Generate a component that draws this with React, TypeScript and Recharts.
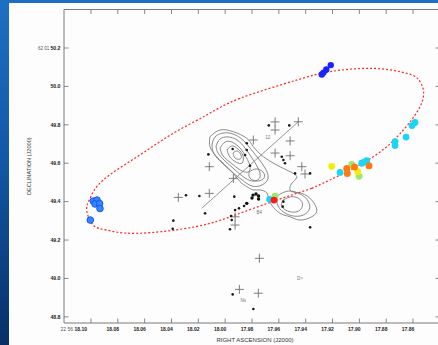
import React from 'react';
import { ComposedChart, XAxis, YAxis, Line, Scatter, ReferenceArea, ReferenceDot } from 'recharts';

type P = { x: number; y: number };

// Right ascension (seconds of 22h56m) and declination (arcsec of 62°01')
const raTicks = [18.1, 18.08, 18.06, 18.04, 18.02, 18.0, 17.98, 17.96, 17.94, 17.92, 17.9, 17.88, 17.86];
const decTicks = [48.8, 49.0, 49.2, 49.4, 49.6, 49.8, 50.0, 50.2];
const raDomain = [17.8399, 18.1201];
const decDomain = [48.768, 50.4005];

const ellipsePath: P[] = [
  { x: 17.9355, y: 49.469 }, { x: 17.9628, y: 49.405 }, { x: 17.9927, y: 49.33 }, { x: 18.0225, y: 49.269 },
  { x: 18.0659, y: 49.235 }, { x: 18.0883, y: 49.252 }, { x: 18.0983, y: 49.278 }, { x: 18.1032, y: 49.356 },
  { x: 18.1007, y: 49.417 }, { x: 18.0908, y: 49.513 }, { x: 18.0635, y: 49.643 }, { x: 18.0387, y: 49.756 },
  { x: 18.0138, y: 49.851 }, { x: 17.9889, y: 49.938 }, { x: 17.9467, y: 50.033 }, { x: 17.9219, y: 50.077 },
  { x: 17.8896, y: 50.094 }, { x: 17.8647, y: 50.068 }, { x: 17.8563, y: 50.039 }, { x: 17.8523, y: 49.981 },
  { x: 17.8548, y: 49.894 }, { x: 17.8672, y: 49.773 }, { x: 17.8896, y: 49.634 }, { x: 17.9219, y: 49.513 },
  { x: 17.9355, y: 49.469 },
];

const contourOuter: P[] = [
  { x: 18.0113, y: 49.738 }, { x: 18.0038, y: 49.773 }, { x: 17.9939, y: 49.764 }, { x: 17.9839, y: 49.73 },
  { x: 17.979, y: 49.686 }, { x: 17.9715, y: 49.634 }, { x: 17.9616, y: 49.591 }, { x: 17.9516, y: 49.556 },
  { x: 17.9466, y: 49.53 }, { x: 17.9492, y: 49.504 }, { x: 17.9516, y: 49.478 }, { x: 17.9504, y: 49.452 },
  { x: 17.9429, y: 49.443 }, { x: 17.9355, y: 49.408 }, { x: 17.9317, y: 49.356 }, { x: 17.9355, y: 49.321 },
  { x: 17.9442, y: 49.304 }, { x: 17.9516, y: 49.321 }, { x: 17.9591, y: 49.339 }, { x: 17.9653, y: 49.382 },
  { x: 17.9678, y: 49.417 }, { x: 17.969, y: 49.446 }, { x: 17.974, y: 49.461 }, { x: 17.979, y: 49.461 },
  { x: 17.9839, y: 49.478 }, { x: 17.9889, y: 49.504 }, { x: 17.9939, y: 49.547 }, { x: 17.9988, y: 49.582 },
  { x: 18.0063, y: 49.634 }, { x: 18.0113, y: 49.686 }, { x: 18.0113, y: 49.738 },
];
const contour2: P[] = [
  { x: 18.0098, y: 49.695 }, { x: 18.0075, y: 49.737 }, { x: 18.0016, y: 49.757 }, { x: 17.9941, y: 49.752 },
  { x: 17.9867, y: 49.721 }, { x: 17.9815, y: 49.679 }, { x: 17.9755, y: 49.627 }, { x: 17.9703, y: 49.575 },
  { x: 17.968, y: 49.523 }, { x: 17.9725, y: 49.487 }, { x: 17.98, y: 49.481 }, { x: 17.9874, y: 49.513 },
  { x: 17.9949, y: 49.554 }, { x: 18.0023, y: 49.601 }, { x: 18.0083, y: 49.648 }, { x: 18.0098, y: 49.695 },
];
const contour3: P[] = [
  { x: 18.0068, y: 49.69 }, { x: 18.0038, y: 49.726 }, { x: 17.9979, y: 49.737 }, { x: 17.9911, y: 49.721 },
  { x: 17.9852, y: 49.679 }, { x: 17.98, y: 49.627 }, { x: 17.9755, y: 49.575 }, { x: 17.974, y: 49.528 },
  { x: 17.9785, y: 49.507 }, { x: 17.9852, y: 49.523 }, { x: 17.9926, y: 49.565 }, { x: 18.0001, y: 49.612 },
  { x: 18.0053, y: 49.653 }, { x: 18.0068, y: 49.69 },
];
const contour4: P[] = [
  { x: 18.0038, y: 49.679 }, { x: 18.0001, y: 49.71 }, { x: 17.9949, y: 49.71 }, { x: 17.9889, y: 49.679 },
  { x: 17.9844, y: 49.632 }, { x: 17.9815, y: 49.585 }, { x: 17.9829, y: 49.554 }, { x: 17.9889, y: 49.565 },
  { x: 17.9956, y: 49.601 }, { x: 18.0016, y: 49.638 }, { x: 18.0038, y: 49.679 },
];
const contour5: P[] = [
  { x: 17.9986, y: 49.669 }, { x: 17.9949, y: 49.69 }, { x: 17.9904, y: 49.674 }, { x: 17.9867, y: 49.638 },
  { x: 17.9874, y: 49.601 }, { x: 17.9919, y: 49.606 }, { x: 17.9964, y: 49.632 }, { x: 17.9986, y: 49.669 },
];
const contour6: P[] = [
  { x: 17.9941, y: 49.653 }, { x: 17.9911, y: 49.664 }, { x: 17.9882, y: 49.643 }, { x: 17.9889, y: 49.622 },
  { x: 17.9926, y: 49.627 }, { x: 17.9941, y: 49.653 },
];
const contourB: P[] = [
  { x: 17.9822, y: 49.554 }, { x: 17.977, y: 49.57 }, { x: 17.9718, y: 49.554 }, { x: 17.971, y: 49.523 },
  { x: 17.9762, y: 49.507 }, { x: 17.9815, y: 49.523 }, { x: 17.9822, y: 49.554 },
];
const contourLobe: P[] = [
  { x: 17.9613, y: 49.429 }, { x: 17.9531, y: 49.455 }, { x: 17.9442, y: 49.44 }, { x: 17.9382, y: 49.403 },
  { x: 17.9375, y: 49.356 }, { x: 17.9442, y: 49.325 }, { x: 17.9539, y: 49.335 }, { x: 17.9606, y: 49.377 },
  { x: 17.9613, y: 49.429 },
];
const contourLobeInner: P[] = [
  { x: 17.9569, y: 49.408 }, { x: 17.9494, y: 49.426 }, { x: 17.9429, y: 49.4 }, { x: 17.9442, y: 49.356 },
  { x: 17.9516, y: 49.347 }, { x: 17.9578, y: 49.374 }, { x: 17.9569, y: 49.408 },
];
const contours = [contourOuter, contour2, contour3, contour4, contour5, contour6, contourB, contourLobe, contourLobeInner];

const jetAxis: P[] = [{ x: 18.0175, y: 49.365 }, { x: 17.9455, y: 49.816 }];

const crosses: P[] = [
  { x: 17.9628, y: 49.815 }, { x: 17.9628, y: 49.773 }, { x: 17.9455, y: 49.816 }, { x: 17.979, y: 49.721 },
  { x: 17.9516, y: 49.716 }, { x: 17.9628, y: 49.653 }, { x: 17.9516, y: 49.639 }, { x: 18.0118, y: 49.582 },
  { x: 17.9429, y: 49.582 }, { x: 17.9405, y: 49.544 }, { x: 17.9939, y: 49.521 }, { x: 18.0118, y: 49.443 },
  { x: 18.0349, y: 49.422 }, { x: 17.9926, y: 49.321 }, { x: 17.9926, y: 49.278 }, { x: 17.9745, y: 49.105 },
  { x: 17.9894, y: 48.943 }, { x: 17.9753, y: 48.923 },
];

const blackDots: P[] = [
  { x: 17.9675, y: 49.797 }, { x: 17.9522, y: 49.797 }, { x: 18.0125, y: 49.646 }, { x: 17.9944, y: 49.674 },
  { x: 17.9839, y: 49.704 }, { x: 17.9839, y: 49.669 }, { x: 17.9852, y: 49.643 }, { x: 17.9815, y: 49.587 },
  { x: 17.9578, y: 49.634 }, { x: 17.9566, y: 49.617 }, { x: 17.9554, y: 49.6 }, { x: 17.9479, y: 49.547 },
  { x: 17.9367, y: 49.547 }, { x: 18.0292, y: 49.433 }, { x: 18.0192, y: 49.429 }, { x: 17.9932, y: 49.426 },
  { x: 18.015, y: 49.339 }, { x: 18.0386, y: 49.301 }, { x: 18.0391, y: 49.259 }, { x: 17.9964, y: 49.256 },
  { x: 17.9951, y: 49.304 }, { x: 17.9839, y: 49.391 }, { x: 17.9859, y: 49.377 }, { x: 17.9897, y: 49.365 },
  { x: 17.9926, y: 49.356 }, { x: 17.9956, y: 49.325 }, { x: 17.9566, y: 49.4 }, { x: 17.9571, y: 49.374 },
  { x: 17.9367, y: 49.266 }, { x: 17.9944, y: 48.917 }, { x: 17.979, y: 48.841 },
];
const blackArc: P[] = [
  { x: 17.98, y: 49.419 }, { x: 17.9792, y: 49.434 }, { x: 17.977, y: 49.44 }, { x: 17.9751, y: 49.429 },
  { x: 17.9751, y: 49.414 }, { x: 17.9839, y: 49.391 },
];

const deepBlueSpots: P[] = [
  { x: 17.9213, y: 50.111 }, { x: 17.9246, y: 50.088 }, { x: 17.9267, y: 50.072 }, { x: 17.928, y: 50.062 },
];
const blueSpots: P[] = [
  { x: 18.0983, y: 49.403 }, { x: 18.0955, y: 49.408 }, { x: 18.097, y: 49.388 }, { x: 18.0936, y: 49.39 },
  { x: 18.0933, y: 49.364 }, { x: 18.1005, y: 49.304 },
];
const cyanSpots: P[] = [
  { x: 17.8585, y: 49.812 }, { x: 17.8607, y: 49.796 }, { x: 17.8652, y: 49.736 }, { x: 17.8734, y: 49.713 },
  { x: 17.8734, y: 49.692 }, { x: 17.9144, y: 49.552 }, { x: 17.8982, y: 49.6 }, { x: 17.8965, y: 49.606 },
  { x: 17.8945, y: 49.613 }, { x: 17.9669, y: 49.412 },
];
const greenSpots: P[] = [{ x: 17.9057, y: 49.594 }, { x: 17.9002, y: 49.532 }, { x: 17.9628, y: 49.429 }];
const yellowSpots: P[] = [{ x: 17.9206, y: 49.584 }, { x: 17.9012, y: 49.556 }];
const orangeSpots: P[] = [
  { x: 17.9094, y: 49.572 }, { x: 17.909, y: 49.547 }, { x: 17.9036, y: 49.58 }, { x: 17.8928, y: 49.587 },
];
const redSpots: P[] = [{ x: 17.9636, y: 49.408 }];

const annotations = [
  { x: 17.9683, y: 49.735, text: '12' },
  { x: 17.9745, y: 49.344, text: 'B4' },
  { x: 17.9865, y: 48.884, text: 'Ns' },
  { x: 17.9442, y: 49.001, text: 'D>' },
];

const W = 446;
const H = 345;
const MARGIN = { top: 9.5, right: 6, bottom: 0, left: 0 };
const PLOT_TOP = MARGIN.top;
const PLOT_RIGHT = W - MARGIN.right;
const TICK = 4.5;
const FRAME = '#7a7a7a';

const XTick = (props: any) => {
  const { x, y, payload } = props;
  const v: number = payload.value;
  const first = Math.abs(v - 18.1) < 1e-6;
  return (
    <g>
      <line x1={x} x2={x} y1={y} y2={y - TICK} stroke={FRAME} strokeWidth={0.9} />
      <line x1={x} x2={x} y1={PLOT_TOP} y2={PLOT_TOP + TICK} stroke={FRAME} strokeWidth={0.9} />
      {first ? (
        <text x={x - 4} y={y + 8} textAnchor="end" fontSize={5} fontWeight="bold" fill="#222">
          <tspan fontWeight="normal" fill="#555">22 56 </tspan>18.10
        </text>
      ) : (
        <text x={x - 5} y={y + 8} textAnchor="middle" fontSize={5} fontWeight="bold" fill="#222">
          {v.toFixed(2)}
        </text>
      )}
    </g>
  );
};

const YTick = (props: any) => {
  const { x, y, payload } = props;
  const v: number = payload.value;
  const first = Math.abs(v - 50.2) < 1e-6;
  return (
    <g>
      <line x1={x} x2={x + TICK} y1={y} y2={y} stroke={FRAME} strokeWidth={0.9} />
      <line x1={PLOT_RIGHT} x2={PLOT_RIGHT - TICK} y1={y} y2={y} stroke={FRAME} strokeWidth={0.9} />
      <text x={x - 3.5} y={y + 1.8} textAnchor="end" fontSize={5.2} fontWeight="bold" fill="#222">
        {first ? <tspan fontWeight="normal" fill="#555" fontSize={4.5}>62 01 </tspan> : null}
        {v.toFixed(1)}
      </text>
    </g>
  );
};

const YTitle = (props: any) => {
  const vb = props.viewBox || { x: 0, y: 0, width: 64, height: 300 };
  const cx = 31;
  const cy = vb.y + vb.height / 2;
  return (
    <text x={cx} y={cy} transform={`rotate(-90 ${cx} ${cy})`} textAnchor="middle" fontSize={5.6} fill="#333">
      DECLINATION (J2000)
    </text>
  );
};

const XTitle = (props: any) => {
  const vb = props.viewBox || { x: 64, y: 323, width: 376, height: 22 };
  const cx = vb.x + vb.width / 2 + 3;
  return (
    <text x={cx} y={342} textAnchor="middle" fontSize={6} fill="#333">
      RIGHT ASCENSION (J2000)
    </text>
  );
};

const circleShape = (fill: string, r: number, stroke?: string) => (p: any) =>
  <circle cx={p.cx} cy={p.cy} r={r} fill={fill} stroke={stroke || 'none'} strokeWidth={stroke ? 1 : 0} />;

const crossShape = (p: any) => (
  <path
    d={`M${p.cx - 4.5},${p.cy}H${p.cx + 4.5}M${p.cx},${p.cy - 4.5}V${p.cy + 4.5}`}
    stroke="#707070"
    strokeWidth={0.9}
    fill="none"
  />
);

export default function App() {
  return (
    <div
      style={{
        position: 'fixed',
        left: 0,
        top: 0,
        width: 438,
        height: 345,
        overflow: 'hidden',
        background: 'linear-gradient(to bottom, #1e6fc4 0%, #1358a8 45%, #073066 100%)',
      }}
    >
      <div style={{ position: 'absolute', left: 9, top: 3, width: 440, height: 350, background: '#fdfdfd' }} />
      <div style={{ position: 'absolute', left: 0, top: 0, fontFamily: 'Arial, "Liberation Sans", sans-serif' }}>
        <ComposedChart width={W} height={H} margin={MARGIN}>
          <XAxis
            type="number"
            dataKey="x"
            domain={raDomain}
            reversed
            allowDataOverflow
            ticks={raTicks}
            interval={0}
            tickSize={0}
            tickMargin={0}
            axisLine={false}
            tickLine={false}
            tick={<XTick />}
            height={22}
            label={<XTitle />}
          />
          <YAxis
            type="number"
            dataKey="y"
            domain={decDomain}
            allowDataOverflow
            ticks={decTicks}
            interval={0}
            tickSize={0}
            tickMargin={0}
            axisLine={false}
            tickLine={false}
            tick={<YTick />}
            width={64}
            label={<YTitle />}
          />
          <ReferenceArea
            x1={raDomain[0]}
            x2={raDomain[1]}
            y1={decDomain[0]}
            y2={decDomain[1]}
            fill="none"
            stroke={FRAME}
            strokeWidth={1}
            ifOverflow="visible"
          />
          {contours.map((c, i) => (
            <Line
              key={'c' + i}
              data={c}
              dataKey="y"
              type="natural"
              stroke="#7e7e7e"
              strokeWidth={0.9}
              dot={false}
              activeDot={false}
              isAnimationActive={false}
            />
          ))}
          <Line data={jetAxis} dataKey="y" type="linear" stroke="#7a7a7a" strokeWidth={0.8} dot={false} activeDot={false} isAnimationActive={false} />
          <Scatter data={crosses} shape={crossShape} isAnimationActive={false} />
          <Scatter data={blackDots} shape={circleShape('#1a1a1a', 1.3)} isAnimationActive={false} />
          <Scatter data={blackArc} shape={circleShape('#111', 1.7)} isAnimationActive={false} />
          {annotations.map((a, i) => (
            <ReferenceDot
              key={'a' + i}
              x={a.x}
              y={a.y}
              r={0}
              fill="none"
              stroke="none"
              label={{ value: a.text, fontSize: 4.5, fill: '#777', position: 'center' }}
            />
          ))}
          <Scatter data={deepBlueSpots} shape={circleShape('#1a22ff', 3.2)} isAnimationActive={false} />
          <Scatter data={blueSpots} shape={circleShape('#2f8cff', 3.3, '#1c50ff')} isAnimationActive={false} />
          <Scatter data={cyanSpots} shape={circleShape('#1ad6f6', 3.4)} isAnimationActive={false} />
          <Scatter data={greenSpots} shape={circleShape('#9be86a', 3.4)} isAnimationActive={false} />
          <Scatter data={yellowSpots} shape={circleShape('#f2f000', 3.4)} isAnimationActive={false} />
          <Scatter data={orangeSpots} shape={circleShape('#ff7a12', 3.5)} isAnimationActive={false} />
          <Scatter data={redSpots} shape={circleShape('#ff1a1a', 3.4)} isAnimationActive={false} />
          <Line
            data={ellipsePath}
            dataKey="y"
            type="natural"
            stroke="#ff2424"
            strokeWidth={1.2}
            strokeDasharray="2 2"
            dot={false}
            activeDot={false}
            isAnimationActive={false}
          />
        </ComposedChart>
      </div>
    </div>
  );
}
